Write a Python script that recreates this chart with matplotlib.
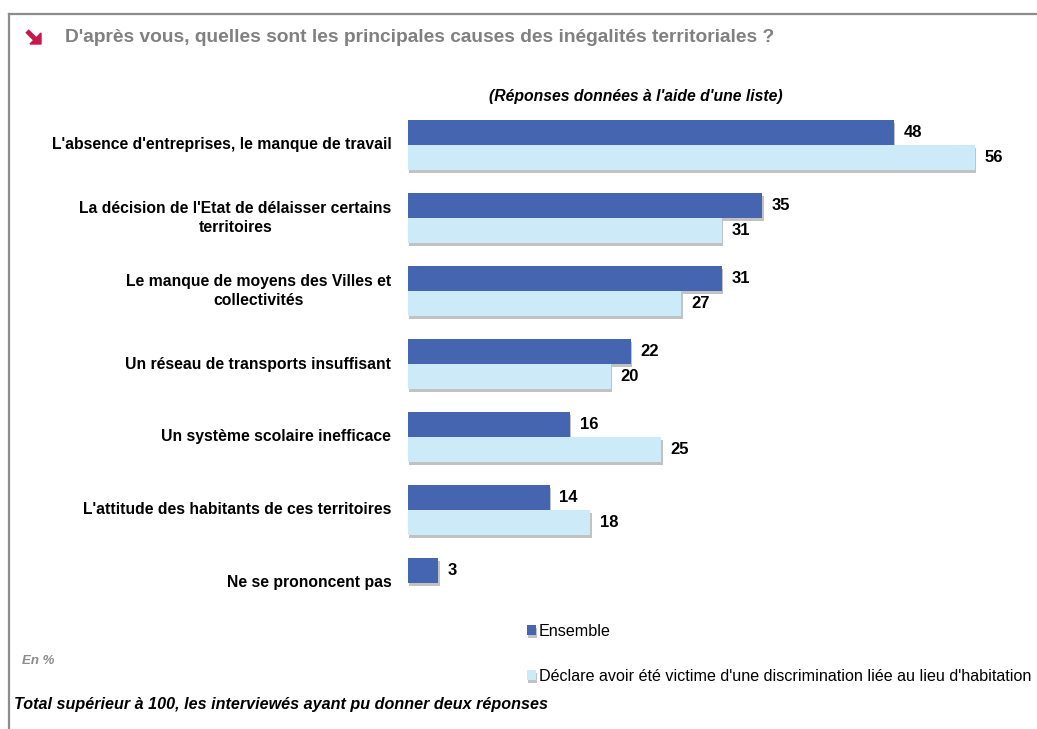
import matplotlib
matplotlib.use("Agg")
import matplotlib.pyplot as plt
import matplotlib.patheffects as pe
from matplotlib.lines import Line2D
from matplotlib.patches import Polygon
import numpy as np

categories = [
    "L'absence d'entreprises, le manque de travail",
    "La décision de l'Etat de délaisser certains\nterritoires",
    "Le manque de moyens des Villes et\ncollectivités",
    "Un réseau de transports insuffisant",
    "Un système scolaire inefficace",
    "L'attitude des habitants de ces territoires",
    "Ne se prononcent pas",
]
ensemble = [48, 35, 31, 22, 16, 14, 3]
victimes = [56, 31, 27, 20, 25, 18, np.nan]
series_names = [
    "Ensemble",
    "Déclare avoir été victime d'une discrimination liée au lieu d'habitation",
]

DARK = "#4565b0"
LIGHT = "#cdeaf8"
GREY = "#8c8c8c"
RED = "#c8174a"

plt.rcParams["font.family"] = ["Liberation Sans", "DejaVu Sans"]

W, H = 1037, 729
fig = plt.figure(figsize=(W / 100, H / 100), dpi=100)


def px(x, y):
    # pixels comptés depuis le coin haut-gauche -> fraction de figure
    return x / W, 1 - y / H


# axes placed in pixel terms: x=0 at 408px, 10.125 px per point
left_px, right_px, top_px, bot_px = 408, 1030, 110, 600
ax = fig.add_axes([left_px / W, 1 - bot_px / H,
                   (right_px - left_px) / W, (bot_px - top_px) / H])
ax.set_xlim(0, (right_px - left_px) / 10.125)
ax.set_ylim((bot_px - 145) / 73, -(145 - top_px) / 73)
ax.axis("off")

y = np.arange(len(categories))
h = 0.34
shadow = [pe.SimplePatchShadow(offset=(1, -2), shadow_rgbFace="#9a9a9a", alpha=0.6),
          pe.Normal()]

# barres foncées sous les claires : l'ombre des foncées reste cachée
b1 = ax.barh(y - h / 2, ensemble, height=h, color=DARK, label=series_names[0],
             zorder=2)
vic_y = [yy + h / 2 for yy, v in zip(y, victimes) if not np.isnan(v)]
vic_v = [v for v in victimes if not np.isnan(v)]
b2 = ax.barh(vic_y, vic_v, height=h, color=LIGHT, label=series_names[1],
             zorder=3)
for r in list(b1) + list(b2):
    r.set_path_effects(shadow)

# valeurs au bout des barres
for yy, v in zip(y - h / 2, ensemble):
    ax.annotate(f"{v}", (v, yy), xytext=(7, 0), textcoords="offset points",
                va="center", ha="left", fontsize=12, fontweight="bold")
for yy, v in zip(vic_y, vic_v):
    ax.annotate(f"{v:.0f}", (v, yy), xytext=(7, 0), textcoords="offset points",
                va="center", ha="left", fontsize=12, fontweight="bold")

# libellés des catégories
for yy, c in zip(y, categories):
    ax.annotate(c, (0, yy), xytext=(-12, 0), textcoords="offset points",
                va="center", ha="right", multialignment="center",
                fontsize=11.3, fontweight="bold", linespacing=1.3)

# cadre gris (haut + gauche)
fig.add_artist(Line2D([9 / W, 1], [1 - 14 / H, 1 - 14 / H], color=GREY, lw=1.6))
fig.add_artist(Line2D([9 / W, 9 / W], [1 - 14 / H, 0], color=GREY, lw=1.6))

# petite flèche rouge devant le titre
sx, sy = px(27, 31)
ex, ey = px(36, 40)
fig.add_artist(Line2D([sx, ex], [sy, ey], color=RED, lw=3.5,
                      solid_capstyle="butt"))
fig.add_artist(Polygon([px(41, 44), px(30, 44), px(41, 33)], closed=True,
                       color=RED, transform=fig.transFigure))

fig.text(65 / W, 1 - 37 / H,
         "D'après vous, quelles sont les principales causes des inégalités territoriales ?",
         fontsize=13.8, fontweight="bold", color="#808080", va="center", ha="left")
fig.text(636 / W, 1 - 97 / H, "(Réponses données à l'aide d'une liste)",
         fontsize=11.3, fontweight="bold", style="italic", va="center", ha="center")

# légende
leg = fig.legend(handles=[b1, b2], labels=series_names,
                 loc="upper left", bbox_to_anchor=(527 / W, 1 - 624 / H),
                 frameon=False, handlelength=0.55, handleheight=0.55,
                 handletextpad=0.2, labelspacing=1.85, fontsize=11.6,
                 borderaxespad=0, borderpad=0)

fig.text(22 / W, 1 - 661 / H, "En %", fontsize=9.5, style="italic",
         fontweight="bold", color="#8c8c8c", va="center", ha="left")
fig.text(14 / W, 1 - 705 / H,
         "Total supérieur à 100, les interviewés ayant pu donner deux réponses",
         fontsize=11.6, style="italic", fontweight="bold",
         va="center", ha="left")

fig.savefig("out.png", dpi=100)
